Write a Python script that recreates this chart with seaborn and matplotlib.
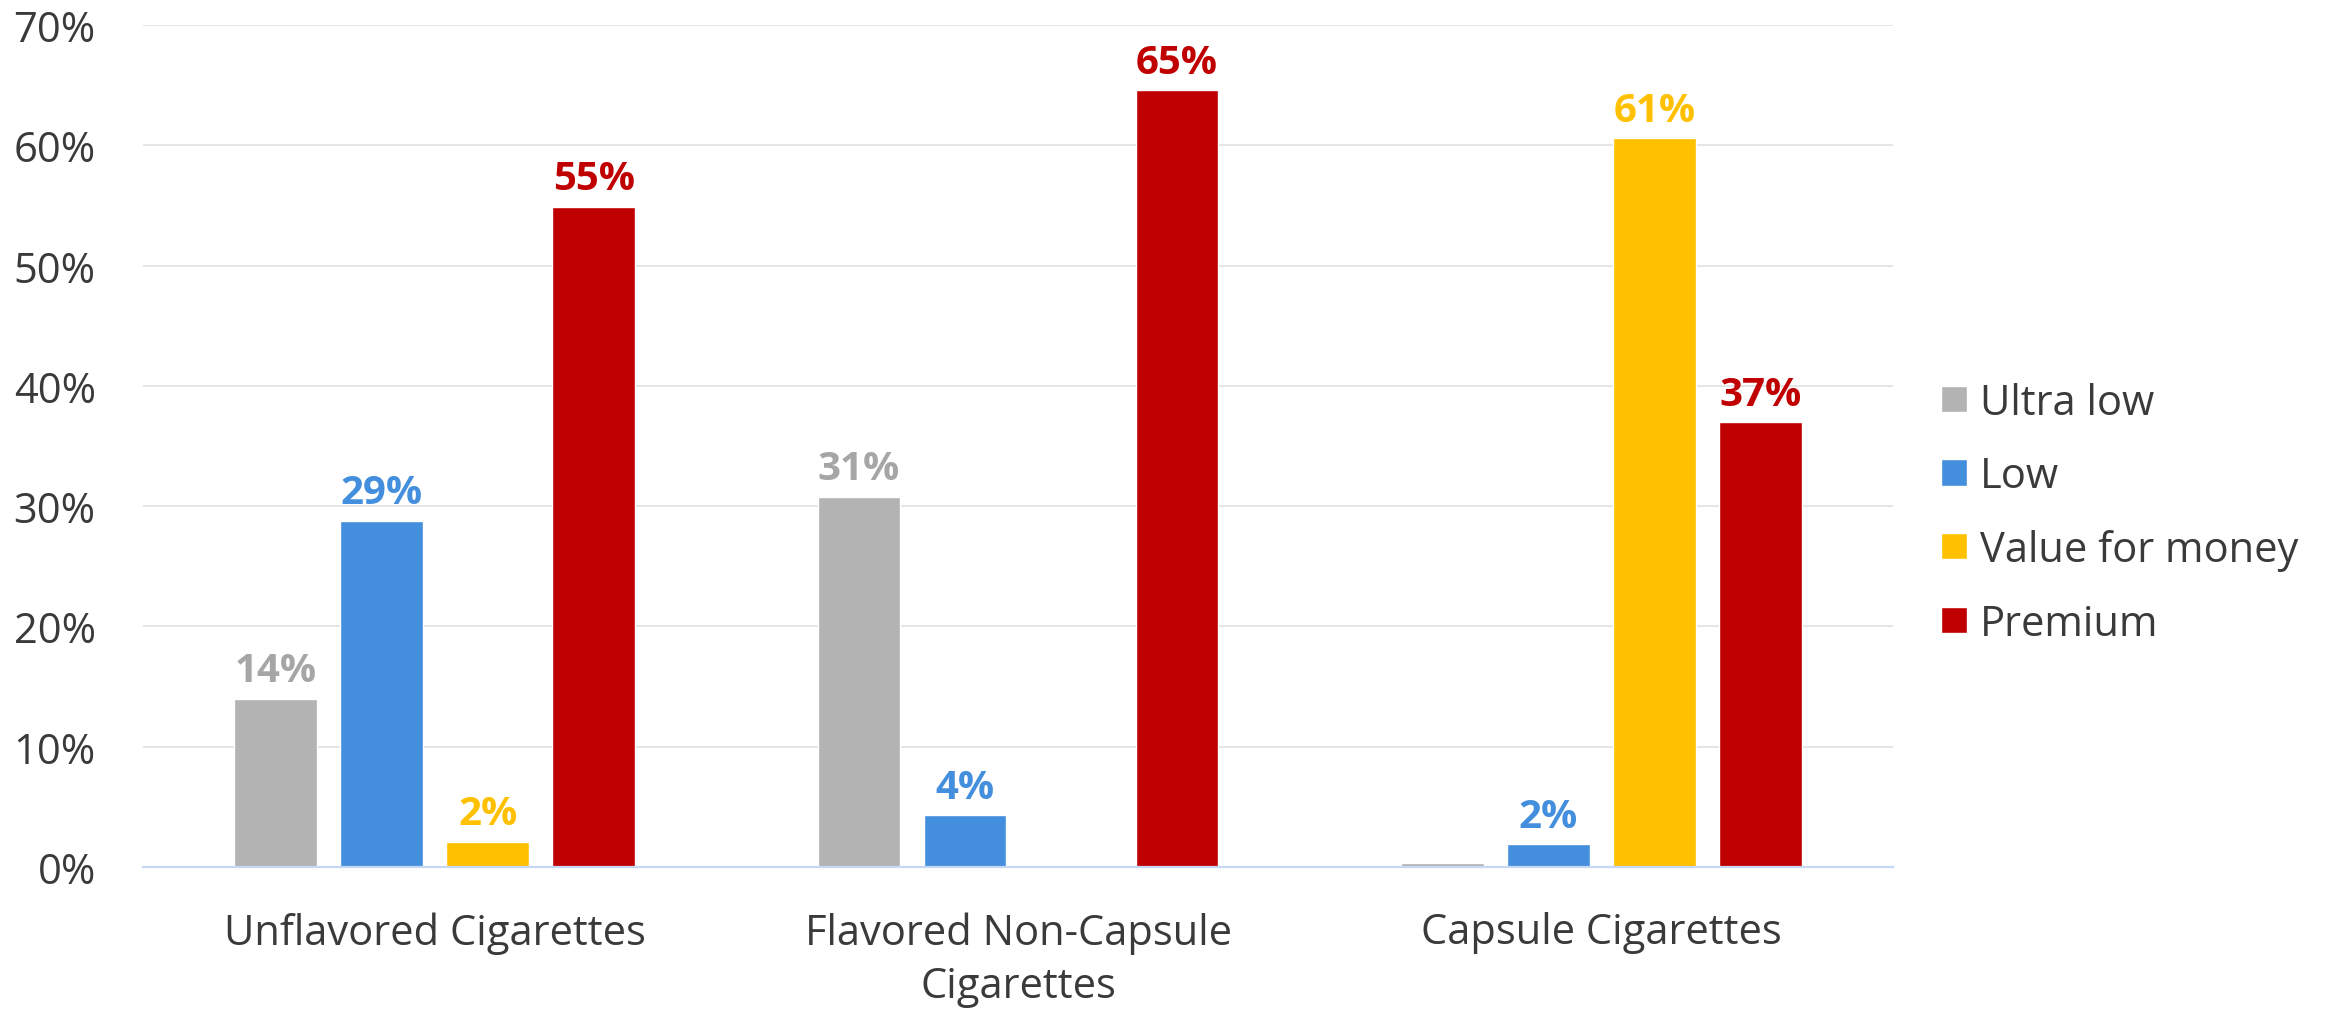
import matplotlib
matplotlib.use("Agg")
import matplotlib.pyplot as plt
import seaborn as sns
import pandas as pd

# Share of each price tier within each cigarette type (%)
categories = ["Unflavored Cigarettes", "Flavored Non-Capsule\nCigarettes", "Capsule Cigarettes"]
tiers = ["Ultra low", "Low", "Value for money", "Premium"]
ultra_low = [14.0, 30.8, 0.3]
low = [28.8, 4.3, 1.9]
value_for_money = [2.1, 0.0, 60.6]
premium = [54.9, 64.6, 37.0]
y_ticks = [0, 10, 20, 30, 40, 50, 60, 70]

bar_colors = ["#B2B3B2", "#448FDD", "#FFC000", "#C00000"]
label_colors = ["#A6A6A6", "#448FDD", "#FFC000", "#C00000"]

series = [ultra_low, low, value_for_money, premium]
df = pd.DataFrame(
    [(cat, tier, vals[i]) for tier, vals in zip(tiers, series) for i, cat in enumerate(categories)],
    columns=["category", "tier", "share"],
)

sns.set_theme(style="white")
plt.rcParams["font.family"] = ["Open Sans", "DejaVu Sans"]

fig = plt.figure(figsize=(23.33, 10.12), dpi=100)
ax = fig.add_axes([0.0613, 0.1423, 0.7501, 0.832])

sns.barplot(
    data=df, x="category", y="share", hue="tier", order=categories, hue_order=tiers,
    palette=bar_colors, width=0.727, gap=0.218, saturation=1, ax=ax, legend=True,
    errorbar=None,
)

# Value labels above bars, in the bar colour; very small shares stay unlabelled
for container, col in zip(ax.containers, label_colors):
    vals = container.datavalues
    labels = [f"{v:.0f}%" if v >= 1 else "" for v in vals]
    ax.bar_label(container, labels=labels, padding=6, color=col,
                 fontsize=29, fontweight="bold")

ax.set_xlim(-0.5, 2.5)
ax.set_ylim(0, 70)
ax.set_yticks(y_ticks)
ax.set_yticklabels([f"{t}%" for t in y_ticks])
ax.set_xlabel("")
ax.set_ylabel("")

ax.yaxis.grid(True, color="#E3E3E3", linewidth=1.3)
ax.set_axisbelow(True)
for side in ["left", "right", "top"]:
    ax.spines[side].set_visible(False)
ax.spines["bottom"].set_color("#C5D8F5")
ax.spines["bottom"].set_linewidth(1.6)

ax.tick_params(axis="y", length=0, pad=34, labelsize=30, labelcolor="#3A3A3A")
ax.tick_params(axis="x", length=0, pad=32, labelsize=30, labelcolor="#3A3A3A")
for lbl in ax.get_xticklabels():
    lbl.set_linespacing(1.35)

leg = ax.legend(
    loc="center left", bbox_to_anchor=(0.825, 0.492), bbox_transform=fig.transFigure,
    frameon=False, fontsize=30, handlelength=0.62, handleheight=0.6,
    handletextpad=0.3, labelspacing=0.76, borderaxespad=0,
)
for t in leg.get_texts():
    t.set_color("#3A3A3A")

fig.savefig("out.png", dpi=100)
